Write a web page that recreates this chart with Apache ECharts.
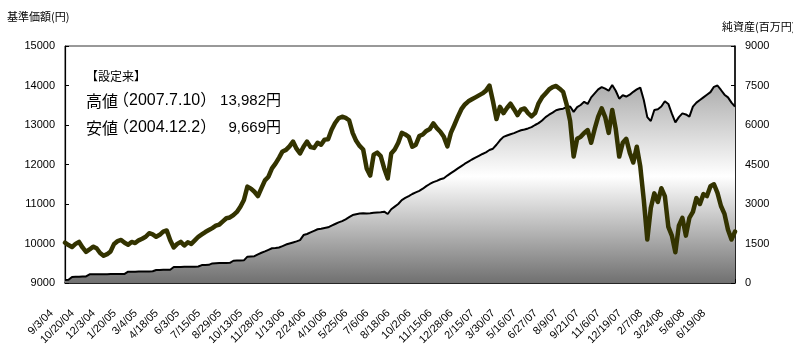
<!DOCTYPE html>
<html><head><meta charset="utf-8">
<script src="https://cdn.jsdelivr.net/npm/echarts@6/dist/echarts.min.js"></script>
<style>html,body{margin:0;padding:0;background:#fff}#c{width:793px;height:344px}</style>
</head><body><div id="c"></div>
<script>
// Tick labels (every 6th data point = every 30 business days)
const tickLabels = ['9/3/04','10/20/04','12/3/04','1/20/05','3/4/05','4/18/05','6/3/05','7/15/05','8/29/05','10/13/05','11/28/05','1/13/06','2/24/06','4/10/06','5/25/06','7/6/06','8/18/06','10/2/06','11/15/06','12/28/06','2/15/07','3/30/07','5/16/07','6/27/07','8/9/07','9/21/07','11/6/07','12/19/07','2/7/08','3/24/08','5/8/08','6/19/08'];

// 基準価額 (円), one point per ~5 business days
const nav = [
10020,9960,9910,9990,10040,9900,9790,9850,9920,9880,9760,9690,9730,9800,9990,10060,10090,10020,9970,10040,
10010,10080,10120,10170,10260,10230,10170,10220,10300,10330,10080,9900,9990,10040,9950,10030,9990,10080,10170,10230,
10290,10340,10390,10450,10480,10560,10640,10660,10720,10800,10930,11100,11440,11390,11310,11200,11400,11600,11690,11900,
12020,12170,12330,12370,12460,12580,12400,12280,12450,12580,12440,12420,12550,12500,12630,12640,12880,13050,13170,13210,
13180,13120,12800,12600,12470,12380,11900,11720,12250,12300,12210,11900,11650,12280,12380,12550,12800,12760,12700,12450,
12500,12720,12760,12850,12900,13040,12920,12830,12700,12460,12800,13000,13210,13400,13520,13600,13650,13700,13750,13800,
13870,14000,13600,13150,13460,13300,13430,13540,13400,13250,13390,13420,13300,13220,13300,13550,13700,13800,13900,13960,
13990,13920,13840,13520,13100,12200,12650,12700,12800,12870,12550,12900,13210,13420,13200,12800,13380,12900,12200,12550,
12650,12300,12050,12450,11950,11100,10100,10900,11270,11050,11400,11200,10420,10200,9780,10450,10650,10200,10650,10800,
11150,11000,11250,11200,11450,11500,11280,10950,10750,10350,10100,10300
];

// 純資産 (百万円)
const netAssets = [
110,120,230,240,240,245,250,330,330,330,335,335,335,340,340,340,345,345,430,430,
430,435,435,440,440,445,495,495,500,500,505,605,610,610,615,615,620,620,625,680,
685,690,745,750,755,760,760,765,845,850,855,860,1000,1010,1020,1090,1150,1200,1260,1320,
1330,1350,1400,1460,1500,1540,1580,1630,1820,1860,1920,1980,2040,2060,2090,2115,2180,2240,2300,2350,
2420,2500,2580,2610,2640,2650,2640,2650,2670,2680,2690,2710,2620,2800,2900,3000,3150,3230,3300,3380,
3440,3500,3580,3680,3760,3830,3880,3940,3980,4080,4170,4260,4350,4440,4530,4610,4690,4760,4830,4900,
4960,5050,5100,5250,5420,5550,5600,5650,5690,5750,5800,5830,5870,5920,6000,6070,6170,6300,6390,6470,
6560,6600,6620,6680,6700,6500,6680,6760,6880,6800,7050,7200,7350,7440,7380,7300,7520,7300,7000,7130,
7080,7150,7260,7350,7420,6950,6300,6150,6570,6600,6700,6900,6800,6430,6100,6300,6440,6400,6320,6700,
6850,6950,7050,7150,7250,7450,7500,7330,7150,7050,6850,6700
];

const navData = nav.map((v, i) => [i, v]);
const naData = netAssets.map((v, i) => [i, v]);
const lastIdx = nav.length - 1;

const chart = echarts.init(document.getElementById('c'), null, {renderer: 'canvas'});
const FONT = '"Liberation Sans", "Noto Sans CJK JP", sans-serif';
const CJK = '"Noto Sans CJK JP", "Liberation Sans", sans-serif';

chart.setOption({
  animation: false,
  backgroundColor: '#fff',
  grid: {left: 65, right: 58, top: 46, bottom: 61, containLabel: false, outerBoundsMode: 'none',
         show: true, borderColor: '#333', borderWidth: 1, backgroundColor: 'transparent'},
  xAxis: {
    type: 'value', min: 0, max: lastIdx, interval: 6,
    axisLine: {show: true, lineStyle: {color: '#000', width: 1.5}},
    axisTick: {show: true, inside: true, length: 4, lineStyle: {color: '#000'}},
    minorTick: {show: true, splitNumber: 2, length: 4, lineStyle: {color: '#000'}},
    splitLine: {show: false}, minorSplitLine: {show: false},
    axisLabel: {
      rotate: 45, margin: 15, padding: [0, 19, 0, 0],
      fontSize: 11, fontFamily: FONT, color: '#000',
      showMaxLabel: false, hideOverlap: false,
      formatter: v => (v % 6 === 0 && tickLabels[v / 6]) ? tickLabels[v / 6] : ''
    }
  },
  yAxis: [
    {type: 'value', min: 9000, max: 15000, interval: 1000, position: 'left',
     axisLine: {show: true, lineStyle: {color: '#000', width: 1.2}},
     axisTick: {show: true, inside: true, length: 4, lineStyle: {color: '#000'}},
     splitLine: {show: false},
     axisLabel: {fontSize: 11, fontFamily: FONT, color: '#000', margin: 10, formatter: v => String(v)}},
    {type: 'value', min: 0, max: 9000, interval: 1500, position: 'right',
     axisLine: {show: true, lineStyle: {color: '#000', width: 1.5}},
     axisTick: {show: true, inside: true, length: 4, lineStyle: {color: '#000'}},
     splitLine: {show: false},
     axisLabel: {fontSize: 11, fontFamily: FONT, color: '#000', margin: 10, formatter: v => String(v)}}
  ],
  series: [
    {name: '純資産', type: 'line', yAxisIndex: 1, data: naData, symbol: 'none', z: 2,
     lineStyle: {color: '#000', width: 2},
     areaStyle: {opacity: 1, color: {type: 'linear', x: 0, y: 46, x2: 0, y2: 283, global: true,
       colorStops: [{offset: 0, color: '#8a8a8a'}, {offset: 0.55, color: '#ffffff'}, {offset: 1, color: '#707070'}]}}},
    {name: '基準価額', type: 'line', yAxisIndex: 0, data: navData, symbol: 'none', z: 3,
     lineStyle: {color: '#333300', width: 4.5, join: 'round', cap: 'round'}}
  ],
  graphic: [
    {type: 'text', left: 7, top: 11, style: {text: '基準価額(円)', font: '11px ' + CJK, fill: '#000'}},
    {type: 'text', left: 722, top: 21, style: {text: '純資産(百万円)', font: '11px ' + CJK, fill: '#000'}},
    {type: 'text', x: 86, y: 76, style: {text: '【設定来】', font: '12px ' + CJK, fill: '#000', verticalAlign: 'middle'}},
    {type: 'text', x: 86, y: 101, style: {text: '高値', font: '16px ' + CJK, fill: '#000', verticalAlign: 'middle'}},
    {type: 'text', x: 113, y: 101, style: {text: '（2007.7.10）', font: '16px ' + FONT, fill: '#000', verticalAlign: 'middle'}},
    {type: 'text', x: 281, y: 101, style: {text: '13,982円', font: '15px ' + FONT, fill: '#000', align: 'right', verticalAlign: 'middle'}},
    {type: 'text', x: 86, y: 128, style: {text: '安値', font: '16px ' + CJK, fill: '#000', verticalAlign: 'middle'}},
    {type: 'text', x: 113, y: 128, style: {text: '（2004.12.2）', font: '16px ' + FONT, fill: '#000', verticalAlign: 'middle'}},
    {type: 'text', x: 281, y: 128, style: {text: '9,669円', font: '15px ' + FONT, fill: '#000', align: 'right', verticalAlign: 'middle'}}
  ]
});
</script></body></html>
